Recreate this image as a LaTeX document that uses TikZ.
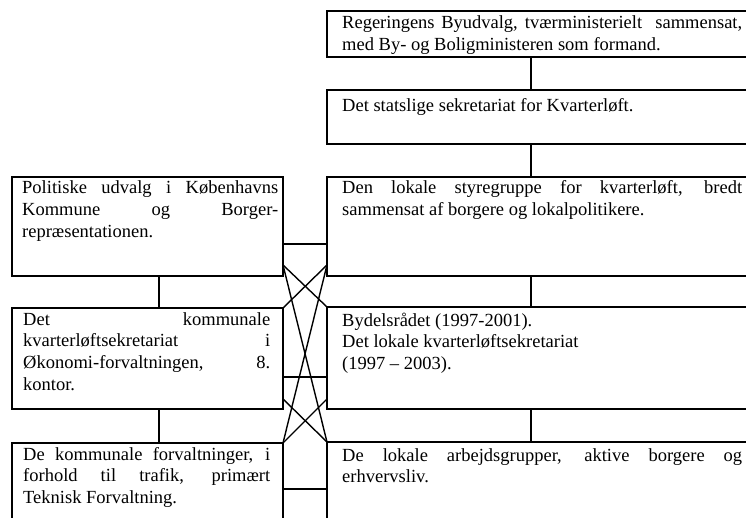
\documentclass[tikz,border=0pt]{standalone}
\usepackage{fontspec}
\setmainfont{Liberation Serif}
\usetikzlibrary{calc}
% a justified line: interword spaces stretched to the full column width
\newcommand\fitline[1]{\makebox[\linewidth][s]{#1}}
\begin{document}
\begin{tikzpicture}[x=1pt,y=-1pt,
  frame/.style={draw=black,line width=2.6pt,outer sep=0pt,inner sep=0pt,
                rectangle,anchor=north west},
  link/.style={draw=black,line width=2.4pt},
  cross/.style={draw=black,line width=1.4pt},
  txt/.style={anchor=base west,inner sep=0pt,
              font=\fontsize{18.5}{21.8}\selectfont}]
\useasboundingbox (0,0) rectangle (746,518);
\clip (0,0) rectangle (746,518);
\fill[white] (0,0) rectangle (746,518);

% right column (runs past the right edge)
\node[frame,minimum width=440pt,minimum height=46pt]  (r1) at (327,11)  {};
\node[frame,minimum width=440pt,minimum height=54pt]  (r2) at (327,90)  {};
\node[frame,minimum width=440pt,minimum height=99pt]  (r3) at (327,177) {};
\node[frame,minimum width=440pt,minimum height=102pt] (r4) at (327,307) {};
\node[frame,minimum width=440pt,minimum height=110pt] (r5) at (327,442) {};

% left column
\node[frame,minimum width=271pt,minimum height=99pt]  (l1) at (12,177) {};
\node[frame,minimum width=271pt,minimum height=101pt] (l2) at (12,308) {};
\node[frame,minimum width=271pt,minimum height=110pt] (l3) at (12,443) {};

% texts
\node[txt] (tr1) at (342,29) {\parbox[t]{400pt}{%
  \fitline{Regeringens Byudvalg, tværministerielt\ \ sammensat,}\\
  med By- og Boligministeren som formand.}};
\node[txt] (tr2) at (342,112) {\parbox[t]{400pt}{%
  Det statslige sekretariat for Kvarterløft.}};
\node[txt] (tr3) at (342,194) {\parbox[t]{400pt}{%
  \fitline{Den lokale styregruppe for kvarterløft, bredt}\\
  sammensat af borgere og lokalpolitikere.}};
\node[txt] (tr4) at (342,326) {\parbox[t]{400pt}{%
  Bydelsrådet (1997-2001).\\
  Det lokale kvarterløftsekretariat\\
  (1997 – 2003).}};
\node[txt] (tr5) at (342,461) {\parbox[t]{400pt}{%
  \fitline{De lokale arbejdsgrupper, aktive borgere og}\\
  erhvervsliv.}};

\node[txt] (tl1) at (22,194) {\parbox[t]{256pt}{%
  \fitline{Politiske udvalg i Københavns}\\
  \fitline{Kommune og Borger-}\\
  repræsentationen.}};
\node[txt] (tl2) at (23,325) {\parbox[t]{247pt}{%
  \fitline{Det kommunale}\\
  \fitline{kvarterløftsekretariat i}\\
  \fitline{Økonomi-forvaltningen, 8.}\\
  kontor.}};
\node[txt] (tl3) at (23,460) {\parbox[t]{247pt}{%
  \fitline{De kommunale forvaltninger, i}\\
  \fitline{forhold til trafik, primært}\\
  Teknisk Forvaltning.}};

% vertical links within the columns
\coordinate (colR) at (531,0);
\coordinate (colL) at (159,0);
\draw[link] (r1.south -| colR) -- (r2.north -| colR);
\draw[link] (r2.south -| colR) -- (r3.north -| colR);
\draw[link] (r3.south -| colR) -- (r4.north -| colR);
\draw[link] (r4.south -| colR) -- (r5.north -| colR);
\draw[link] (l1.south -| colL) -- (l2.north -| colL);
\draw[link] (l2.south -| colL) -- (l3.north -| colL);

% horizontal links between the columns
\coordinate (row1) at (0,244);
\coordinate (row2) at (0,377);
\coordinate (row3) at (0,489);
\draw[link] (l1.east |- row1) -- (r3.west |- row1);
\draw[link] (l2.east |- row2) -- (r4.west |- row2);
\draw[link] (l3.east |- row3) -- (r5.west |- row3);

% crossing links
\coordinate (d1) at ($(l1.south east)+(0,-11)$);
\coordinate (d2) at ($(r3.south west)+(0,-11)$);
\coordinate (d3) at ($(l2.south east)+(0,-10)$);
\coordinate (d4) at ($(r4.south west)+(0,-10)$);
\draw[cross] (d1) -- (r4.north west);
\draw[cross] (d2) -- (l2.north east);
\draw[cross] (d1) -- (r5.north west);
\draw[cross] (d2) -- (l3.north east);
\draw[cross] (d3) -- (r5.north west);
\draw[cross] (d4) -- (l3.north east);
\end{tikzpicture}
\end{document}
